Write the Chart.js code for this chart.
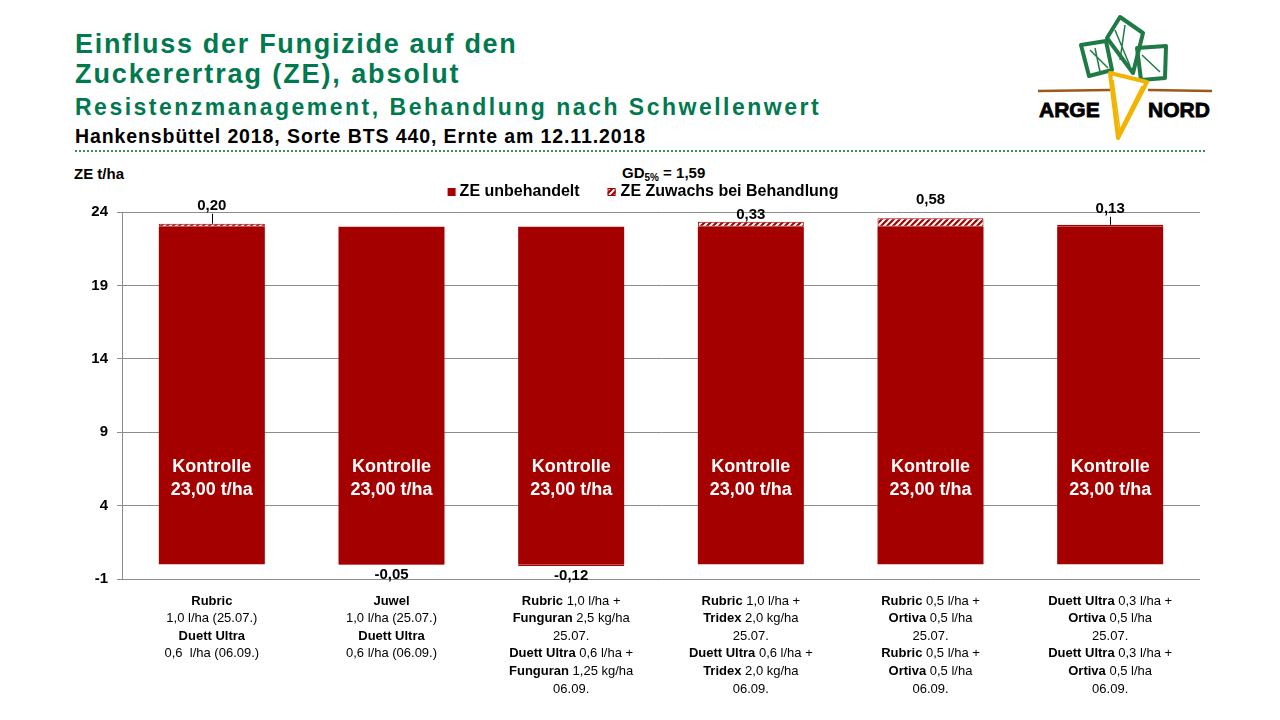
<!DOCTYPE html>
<html>
<head>
<meta charset="utf-8">
<script src="https://cdn.jsdelivr.net/npm/chart.js@4.4.1/dist/chart.umd.min.js"></script>
<style>
  html, body { margin: 0; padding: 0; background: #fff; }
  body { width: 1280px; height: 720px; position: relative; overflow: hidden;
         font-family: "Liberation Sans", Arial, sans-serif; }
  .t { position: absolute; left: 75px; white-space: nowrap; font-weight: bold; }
  .green { color: #00794f; }
  #chart { position: absolute; left: 0; top: 0; }
  #dots { position: absolute; left: 75px; top: 150px; width: 1130px; border-top: 2px dotted #3d8a5c; }
  #unit { position: absolute; left: 74px; top: 165px; font-size: 15px; font-weight: bold; }
  #gd { position: absolute; left: 622px; top: 164px; font-size: 15px; font-weight: bold; }
  #gd sub { font-size: 10px; vertical-align: -3px; }
  #logo { position: absolute; left: 1030px; top: 10px; }
</style>
</head>
<body>
<div class="t green" style="top:31px;font-size:27px;line-height:27px;letter-spacing:1.7px">Einfluss der Fungizide auf den</div>
<div class="t green" style="top:61px;font-size:27px;line-height:27px;letter-spacing:1.9px">Zuckerertrag (ZE), absolut</div>
<div class="t green" style="top:96px;font-size:23px;line-height:23px;letter-spacing:2.5px">Resistenzmanagement, Behandlung nach Schwellenwert</div>
<div class="t" style="top:127px;font-size:19.5px;line-height:19.5px;letter-spacing:0.9px">Hankensbüttel 2018, Sorte BTS 440, Ernte am 12.11.2018</div>
<div id="dots"></div>

<svg id="logo" width="200" height="135" viewBox="1030 10 200 135">
  <g fill="none" stroke="#1f7a45" stroke-width="4" stroke-linejoin="round">
    <polygon points="1081,45 1106,41 1112,70 1089,76"/>
    <polygon points="1120,17 1143,33 1133,73 1107,38"/>
    <polygon points="1137,48 1166,46 1165,78 1141,80"/>
    <path d="M1090,50 L1108,68 M1115,30 L1130,66 M1142,55 L1160,72 M1095,48 L1100,72 M1125,25 L1120,60" stroke-width="1.5"/>
  </g>
  <g stroke="#9b5a1a" stroke-width="2.5">
    <line x1="1038" y1="91" x2="1110" y2="90"/>
    <line x1="1148" y1="90" x2="1212" y2="91"/>
  </g>
  <polygon points="1110,73 1147,82 1118,138" fill="none" stroke="#f2b400" stroke-width="4" stroke-linejoin="round"/>
  <path d="M1113,80 L1120,130 L1142,86" fill="none" stroke="#f2b400" stroke-width="1.5"/>
  <text x="1039" y="117" font-family="Liberation Sans, Arial" font-weight="bold" font-size="21" stroke="#000" stroke-width="0.8">ARGE</text>
  <text x="1148" y="117" font-family="Liberation Sans, Arial" font-weight="bold" font-size="21" stroke="#000" stroke-width="0.8">NORD</text>
</svg>

<div id="unit">ZE t/ha</div>
<div id="gd">GD<sub>5%</sub> = 1,59</div>

<canvas id="chart" width="1280" height="720"></canvas>

<script>
// data
const categories = [
  ['**Rubric**', '1,0 l/ha (25.07.)', '**Duett Ultra**', '0,6  l/ha (06.09.)'],
  ['**Juwel**', '1,0 l/ha (25.07.)', '**Duett Ultra**', '0,6 l/ha (06.09.)'],
  ['**Rubric** 1,0 l/ha +', '**Funguran** 2,5 kg/ha', '25.07.', '**Duett Ultra** 0,6 l/ha +', '**Funguran** 1,25 kg/ha', '06.09.'],
  ['**Rubric** 1,0 l/ha +', '**Tridex** 2,0 kg/ha', '25.07.', '**Duett Ultra** 0,6 l/ha +', '**Tridex** 2,0 kg/ha', '06.09.'],
  ['**Rubric** 0,5 l/ha +', '**Ortiva** 0,5 l/ha', '25.07.', '**Rubric** 0,5 l/ha +', '**Ortiva** 0,5 l/ha', '06.09.'],
  ['**Duett Ultra** 0,3 l/ha +', '**Ortiva** 0,5 l/ha', '25.07.', '**Duett Ultra** 0,3 l/ha +', '**Ortiva** 0,5 l/ha', '06.09.']
];
const controlValues = [23.00, 23.00, 23.00, 23.00, 23.00, 23.00];
const gainValues = [0.20, -0.05, -0.12, 0.33, 0.58, 0.13];
const seriesNames = ['ZE unbehandelt', 'ZE Zuwachs bei Behandlung'];
const controlLabel = 'Kontrolle';
const yTicks = { min: -1, max: 24, step: 5 };

const RED = '#a50000';
const FONT = '"Liberation Sans", Arial, sans-serif';

function hatch(ctx) {
  const c = document.createElement('canvas');
  c.width = 6; c.height = 6;
  const g = c.getContext('2d');
  g.fillStyle = RED;
  g.fillRect(0, 0, 6, 6);
  g.strokeStyle = '#fff';
  g.lineWidth = 2;
  g.beginPath();
  g.moveTo(0, 6); g.lineTo(6, 0);
  g.moveTo(-3, 3); g.lineTo(3, -3);
  g.moveTo(3, 9); g.lineTo(9, 3);
  g.stroke();
  return ctx.createPattern(c, 'repeat');
}

const comma = (v, d) => v.toFixed(d).replace('.', ',');

// draws the mixed bold / normal line, centred on x
function mixedLine(ctx, text, x, y) {
  const parts = text.split('**').map((s, i) => ({ s, bold: i % 2 === 1 })).filter(p => p.s);
  const fontOf = b => (b ? 'bold ' : '') + '13px ' + FONT;
  let w = 0;
  parts.forEach(p => { ctx.font = fontOf(p.bold); p.w = ctx.measureText(p.s).width; w += p.w; });
  let cx = x - w / 2;
  parts.forEach(p => {
    ctx.font = fontOf(p.bold);
    ctx.fillText(p.s, cx, y);
    cx += p.w;
  });
}

const labelPlugin = {
  id: 'labelPlugin',
  afterDatasetsDraw(chart, args, opts) {
    const ctx = chart.ctx;
    const baseMeta = chart.getDatasetMeta(0);
    const gainMeta = chart.getDatasetMeta(1);
    const xs = chart.scales.x;
    ctx.save();
    ctx.textBaseline = 'middle';

    // text inside the control bars
    ctx.fillStyle = '#fff';
    ctx.textAlign = 'center';
    ctx.font = 'bold 18px ' + FONT;
    baseMeta.data.forEach((bar, i) => {
      const cy = bar.base - (bar.base - bar.y) * 0.253;
      ctx.fillText(controlLabel, bar.x, cy - 11.5);
      ctx.fillText(comma(controlValues[i], 2) + ' t/ha', bar.x, cy + 11.5);
    });

    // gain labels
    ctx.fillStyle = '#000';
    ctx.strokeStyle = '#000';
    ctx.lineWidth = 1;
    ctx.font = 'bold 15px ' + FONT;
    gainMeta.data.forEach((bar, i) => {
      const v = gainValues[i];
      if (v >= 0) {
        const ly = bar.y - opts.offsets[i];
        ctx.fillText(comma(v, 2), bar.x, ly);
        if (opts.leaders[i]) {
          ctx.beginPath();
          ctx.moveTo(Math.round(bar.x) + 0.5, ly + 8);
          ctx.lineTo(Math.round(bar.x) + 0.5, bar.y);
          ctx.stroke();
        }
      } else {
        ctx.fillText(comma(v, 2), bar.x, bar.y + 9.5);
      }
    });

    // category labels below the axis
    ctx.textAlign = 'left';
    categories.forEach((lines, i) => {
      const x = xs.getPixelForValue(i);
      lines.forEach((ln, k) => mixedLine(ctx, ln, x, 601 + k * 17.6));
    });

    // legend
    ctx.font = 'bold 16px ' + FONT;
    const w1 = ctx.measureText(seriesNames[0]).width;
    const w2 = ctx.measureText(seriesNames[1]).width;
    const total = 8 + 4 + w1 + 28 + 8 + 5 + w2;
    let lx = 643 - total / 2;
    const ly = 192;
    ctx.fillStyle = RED;
    ctx.fillRect(lx, ly - 4, 8, 8);
    ctx.fillStyle = '#000';
    ctx.fillText(seriesNames[0], lx + 12, ly);
    lx += 12 + w1 + 28;
    ctx.fillStyle = chart.data.datasets[1].backgroundColor;
    ctx.fillRect(lx, ly - 4, 8, 8);
    ctx.strokeStyle = RED;
    ctx.strokeRect(lx + 0.5, ly - 3.5, 7, 7);
    ctx.fillStyle = '#000';
    ctx.fillText(seriesNames[1], lx + 13, ly);
    ctx.restore();
  }
};

const ctx = document.getElementById('chart').getContext('2d');

const chart_data = {
  labels: categories.map(c => c.join(' ').replace(/\*\*/g, '')),
  datasets: [{
    label: seriesNames[0],
    data: controlValues,
    backgroundColor: RED,
    borderWidth: 0
  }, {
    label: seriesNames[1],
    data: gainValues,
    backgroundColor: hatch(ctx),
    borderColor: RED,
    borderWidth: 1,
    borderSkipped: false
  }]
};

const config = {
  type: 'bar',
  data: chart_data,
  plugins: [labelPlugin],
  options: {
    responsive: false,
    animation: false,
    devicePixelRatio: 1,
    layout: { padding: { top: 212, right: 80, bottom: 141, left: 0 } },
    datasets: { bar: { barPercentage: 0.59, categoryPercentage: 1 } },
    plugins: {
      legend: { display: false },
      tooltip: { enabled: false },
      labelPlugin: {
        offsets: [18, 0, 0, 7, 18.5, 16],
        leaders: [true, false, false, false, false, true]
      }
    },
    scales: {
      x: { stacked: true, display: false },
      y: {
        stacked: true,
        min: yTicks.min,
        max: yTicks.max,
        afterFit(scale) { scale.width = 122; },
        ticks: {
          stepSize: yTicks.step,
          color: '#000',
          padding: 9,
          font: { family: FONT, size: 15, weight: 'bold' },
          callback: v => String(v)
        },
        grid: { color: '#8c8c8c', lineWidth: 1, tickLength: 5 },
        border: { display: true, color: '#8c8c8c', width: 1 }
      }
    }
  }
};

new Chart(ctx, config);
</script>
</body>
</html>
